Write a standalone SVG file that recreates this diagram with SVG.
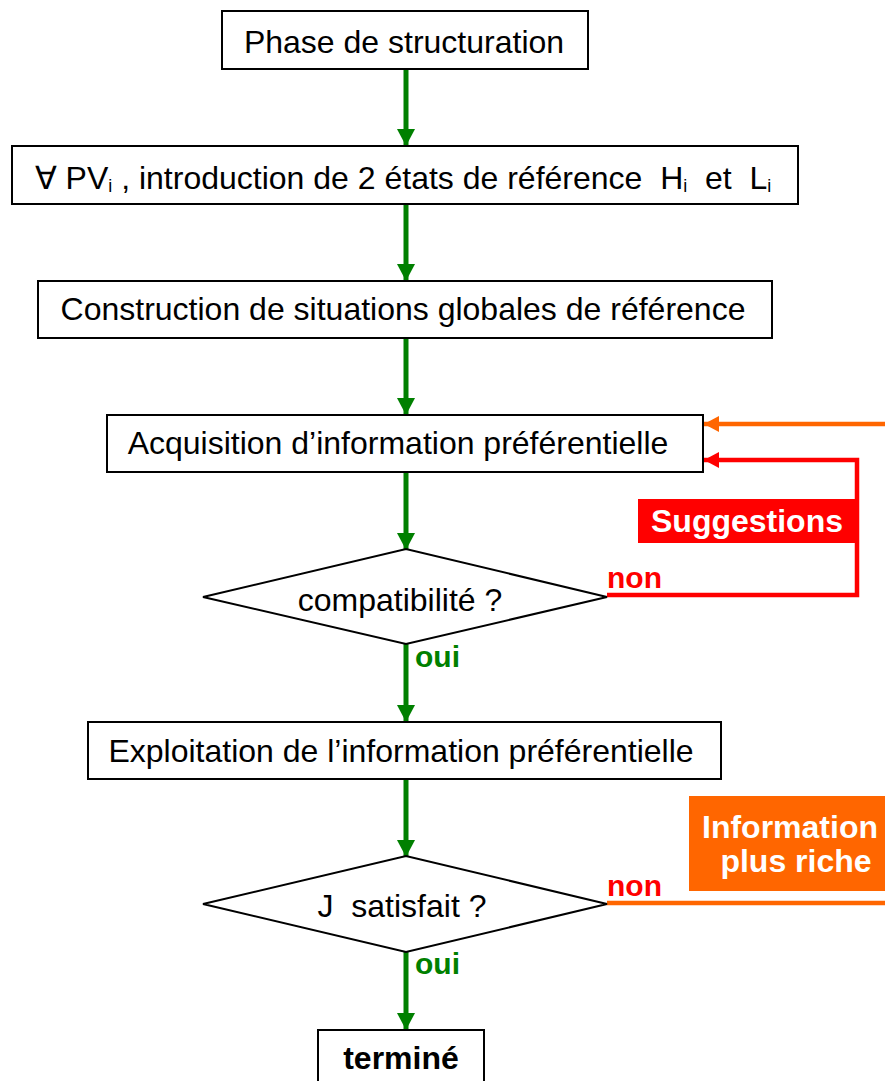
<svg xmlns="http://www.w3.org/2000/svg" width="885" height="1081" viewBox="0 0 885 1081">
  <defs>
    <marker id="ah-green" markerUnits="userSpaceOnUse" markerWidth="18" markerHeight="18" refX="17" refY="9" orient="auto">
      <path d="M0,0 L17,9 L0,18 Z" fill="#008000"/>
    </marker>
    <marker id="ah-red" markerUnits="userSpaceOnUse" markerWidth="16" markerHeight="16" refX="15" refY="8" orient="auto">
      <path d="M0,0 L15,8 L0,16 Z" fill="#ff0000"/>
    </marker>
    <marker id="ah-orange" markerUnits="userSpaceOnUse" markerWidth="16" markerHeight="16" refX="15" refY="8" orient="auto">
      <path d="M0,0 L15,8 L0,16 Z" fill="#ff6600"/>
    </marker>
  </defs>
  <style>
    .box { fill: #ffffff; stroke: #000000; stroke-width: 2; }
    .lbl { font-family: "Liberation Sans", Arial, sans-serif; font-size: 32px; fill: #000000; }
    .bold { font-family: "Liberation Sans", Arial, sans-serif; font-weight: bold; }
    .sub { font-size: 18px; }
    .flow { stroke: #008000; stroke-width: 5; fill: none; marker-end: url(#ah-green); }
    .loop-red { stroke: #ff0000; stroke-width: 4.5; fill: none; }
    .loop-orange { stroke: #ff6600; stroke-width: 4.5; fill: none; }
  </style>

  <rect width="885" height="1081" fill="#ffffff"/>

  <!-- connectors -->
  <g id="connectors">
    <line class="flow" x1="406" y1="69" x2="406" y2="146"/>
    <line class="flow" x1="406" y1="204" x2="406" y2="281"/>
    <line class="flow" x1="406" y1="338" x2="406" y2="415"/>
    <line class="flow" x1="406" y1="472" x2="406" y2="550"/>
    <line class="flow" x1="406" y1="644" x2="406" y2="722"/>
    <line class="flow" x1="406" y1="779" x2="406" y2="857"/>
    <line class="flow" x1="406" y1="952" x2="406" y2="1030"/>
    <polyline class="loop-red" points="607,595 857,595 857,460 704,460" marker-end="url(#ah-red)"/>
    <line class="loop-orange" x1="885" y1="424" x2="704" y2="424" marker-end="url(#ah-orange)"/>
    <line class="loop-orange" x1="607" y1="903" x2="885" y2="903"/>
    <text class="bold" x="415" y="667" font-size="30" fill="#008000">oui</text>
    <text class="bold" x="415" y="974" font-size="30" fill="#008000">oui</text>
    <text class="bold" x="607" y="588" font-size="30" fill="#ff0000">non</text>
    <text class="bold" x="607" y="896" font-size="30" fill="#ff0000">non</text>
  </g>

  <g id="n-structuration">
    <rect class="box" x="222" y="11" width="366" height="58"/>
    <text class="lbl" x="404" y="53" text-anchor="middle">Phase de structuration</text>
  </g>

  <g id="n-etats">
    <rect class="box" x="12" y="146" width="786" height="58"/>
    <text class="lbl" x="403" y="189" text-anchor="middle" xml:space="preserve">∀ PV<tspan class="sub" dy="3">i</tspan><tspan dy="-3"> , introduction de 2 états de référence  H</tspan><tspan class="sub" dy="3">i</tspan><tspan dy="-3">  et  L</tspan><tspan class="sub" dy="3">i</tspan></text>
  </g>

  <g id="n-construction">
    <rect class="box" x="38" y="281" width="734" height="57"/>
    <text class="lbl" x="403" y="320" text-anchor="middle">Construction de situations globales de référence</text>
  </g>

  <g id="n-acquisition">
    <rect class="box" x="107" y="415" width="596" height="57"/>
    <text class="lbl" x="398" y="454" text-anchor="middle">Acquisition d’information préférentielle</text>
  </g>

  <g id="n-suggestions">
    <rect x="638" y="499" width="219" height="44" fill="#ff0000"/>
    <text class="bold" x="747" y="532" font-size="32" fill="#ffffff" text-anchor="middle">Suggestions</text>
  </g>

  <g id="n-compatibilite">
    <polygon class="box" points="203,597 406,549 607,597 406,644"/>
    <text class="lbl" x="400" y="611" text-anchor="middle">compatibilité ?</text>
  </g>

  <g id="n-exploitation">
    <rect class="box" x="88" y="722" width="633" height="57"/>
    <text class="lbl" x="401" y="762" text-anchor="middle">Exploitation de l’information préférentielle</text>
  </g>

  <g id="n-information">
    <rect x="689" y="796" width="196" height="95" fill="#ff6600"/>
    <text class="bold" x="790" y="838" font-size="32" fill="#ffffff" text-anchor="middle">Information</text>
    <text class="bold" x="796" y="872" font-size="32" fill="#ffffff" text-anchor="middle">plus riche</text>
  </g>

  <g id="n-satisfait">
    <polygon class="box" points="203,904 406,856 607,904 406,952"/>
    <text class="lbl" x="402" y="917" text-anchor="middle" xml:space="preserve">J  satisfait ?</text>
  </g>

  <g id="n-termine">
    <rect class="box" x="318" y="1030" width="166" height="60"/>
    <text class="bold" x="401" y="1069" font-size="32" fill="#000000" text-anchor="middle">terminé</text>
  </g>
</svg>
